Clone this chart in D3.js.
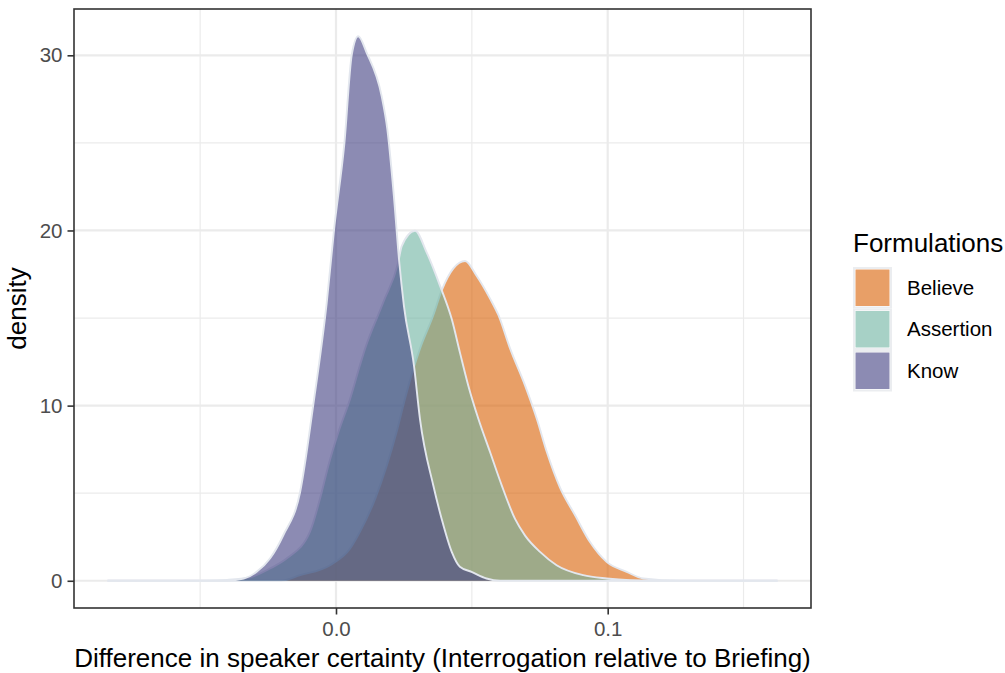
<!DOCTYPE html>
<html>
<head>
<meta charset="utf-8">
<script src="https://cdn.jsdelivr.net/npm/d3@7"></script>
<style>
  body { margin: 0; background: #fff; }
  svg { display: block; font-family: "Liberation Sans", Arial, sans-serif; }
</style>
</head>
<body>
<svg id="chart"></svg>
<script>
//define constants
const svgWidth = 1005;
const svgHeight = 673;
const panel = {left: 74, right: 811, top: 9, bottom: 608};

//define data
const seriesNames = ['Believe', 'Assertion', 'Know'];
const seriesFill = ['#d95f02', '#6cb2a0', '#3f3e80'];

const believeX = [-0.0841, -0.0206, -0.0132, -0.0022, 0.0052, 0.0088, 0.0144, 0.0187, 0.0223, 0.0254, 0.0285, 0.0309, 0.0358, 0.0389, 0.0475, 0.0518, 0.0567, 0.0598, 0.0641, 0.0696, 0.0739, 0.0776, 0.0825, 0.0880, 0.0935, 0.0996, 0.1070, 0.1131, 0.1266, 0.1625];
const believeY = [0, 0, 0.32, 0.89, 1.84, 2.79, 4.68, 6.58, 8.49, 10.39, 12.1, 13.25, 15.16, 16.58, 18.26, 17.4, 16.11, 15.16, 13.25, 11.14, 9.25, 7.35, 5.3, 3.74, 2.21, 1.08, 0.51, 0.13, 0, 0];

const assertionX = [-0.0841, -0.0480, -0.0401, -0.0317, -0.0243, -0.0181, -0.0096, -0.0059, -0.0028, 0.0009, 0.0052, 0.0088, 0.0107, 0.0174, 0.0229, 0.0242, 0.0291, 0.0334, 0.0383, 0.0426, 0.0456, 0.0487, 0.0524, 0.0567, 0.0610, 0.0659, 0.0696, 0.0751, 0.0812, 0.0910, 0.0996, 0.1082, 0.1192, 0.1625];
const assertionY = [0, 0.01, 0.05, 0.2, 0.7, 1.28, 2.79, 4.68, 6.58, 8.49, 10.39, 12.3, 13.25, 15.9, 18.18, 19.11, 19.98, 18.74, 16.84, 14.94, 13.04, 11.14, 9.25, 7.35, 5.45, 3.53, 2.58, 1.65, 0.89, 0.32, 0.13, 0.03, 0, 0];

const knowX = [-0.0841, -0.0400, -0.0340, -0.0292, -0.0243, -0.0194, -0.0132, -0.0084, -0.0034, -0.0007, 0.0031, 0.0058, 0.0082, 0.0113, 0.0168, 0.0189, 0.0213, 0.0233, 0.0250, 0.0287, 0.0309, 0.0358, 0.0389, 0.0426, 0.0456, 0.0499, 0.0554, 0.0604, 0.1625];
const knowY = [0, 0, 0.12, 0.51, 1.27, 2.6, 5.07, 10.0, 15.9, 20.07, 25.0, 30.03, 31.09, 30.14, 27.67, 25.77, 21.97, 18.17, 15.7, 12.28, 9.25, 5.45, 3.53, 1.65, 0.8, 0.51, 0.13, 0, 0];

//tick labels
const xTicks = [0.0, 0.1];
const xMinor = [-0.05, 0.05, 0.15];
const yTicks = [0, 10, 20, 30];
const yMinor = [5, 15, 25];

const xTitle = 'Difference in speaker certainty (Interrogation relative to Briefing)';
const yTitle = 'density';
const legendTitle = 'Formulations';

//build series table
const series = [
	{name: seriesNames[0], fill: seriesFill[0], pts: believeX.map((x, i) => ({x: x, y: believeY[i]}))},
	{name: seriesNames[1], fill: seriesFill[1], pts: assertionX.map((x, i) => ({x: x, y: assertionY[i]}))},
	{name: seriesNames[2], fill: seriesFill[2], pts: knowX.map((x, i) => ({x: x, y: knowY[i]}))}
];

//configure svg window
var svg = d3.select('#chart')
	.attr('width', svgWidth)
	.attr('height', svgHeight);

//define scales (ggplot style 5% expansion)
var xMin = -0.0841, xMax = 0.1625;
var xPad = (xMax - xMin) * 0.05;
var xScale = d3.scaleLinear()
	.domain([xMin - xPad, xMax + xPad])
	.range([panel.left, panel.right]);

var yMax = 31.09;
var yPad = yMax * 0.05;
var yScale = d3.scaleLinear()
	.domain([-yPad, yMax + yPad])
	.range([panel.bottom, panel.top]);

//grid lines
var grid = svg.append('g');
grid.selectAll('.xminor').data(xMinor).enter().append('line')
	.attr('x1', d => xScale(d)).attr('x2', d => xScale(d))
	.attr('y1', panel.top).attr('y2', panel.bottom)
	.attr('stroke', '#ebebeb').attr('stroke-width', 1.2);
grid.selectAll('.yminor').data(yMinor).enter().append('line')
	.attr('y1', d => yScale(d)).attr('y2', d => yScale(d))
	.attr('x1', panel.left).attr('x2', panel.right)
	.attr('stroke', '#ebebeb').attr('stroke-width', 1.2);
grid.selectAll('.xmajor').data(xTicks).enter().append('line')
	.attr('x1', d => xScale(d)).attr('x2', d => xScale(d))
	.attr('y1', panel.top).attr('y2', panel.bottom)
	.attr('stroke', '#ebebeb').attr('stroke-width', 2.2);
grid.selectAll('.ymajor').data(yTicks).enter().append('line')
	.attr('y1', d => yScale(d)).attr('y2', d => yScale(d))
	.attr('x1', panel.left).attr('x2', panel.right)
	.attr('stroke', '#ebebeb').attr('stroke-width', 2.2);

//density areas
var area = d3.area()
	.x(d => xScale(d.x))
	.y0(yScale(0))
	.y1(d => yScale(d.y))
	.curve(d3.curveMonotoneX);
var line = d3.line()
	.x(d => xScale(d.x))
	.y(d => yScale(d.y))
	.curve(d3.curveMonotoneX);

var dens = svg.append('g');
series.forEach(s => {
	dens.append('path')
		.attr('d', area(s.pts))
		.attr('fill', s.fill)
		.attr('fill-opacity', 0.6);
	dens.append('path')
		.attr('d', line(s.pts))
		.attr('fill', 'none')
		.attr('stroke', '#e3e7ee')
		.attr('stroke-width', 1.9)
		.attr('stroke-linejoin', 'round');
});

//panel border
svg.append('rect')
	.attr('x', panel.left).attr('y', panel.top)
	.attr('width', panel.right - panel.left)
	.attr('height', panel.bottom - panel.top)
	.attr('fill', 'none')
	.attr('stroke', '#333333')
	.attr('stroke-width', 1.6);

//axes
var xAxis = d3.axisBottom(xScale)
	.tickValues(xTicks)
	.tickFormat(d3.format('.1f'))
	.tickSize(6.5)
	.tickPadding(7);
var yAxis = d3.axisLeft(yScale)
	.tickValues(yTicks)
	.tickFormat(d3.format('d'))
	.tickSize(6.5)
	.tickPadding(5);

var gx = svg.append('g')
	.attr('transform', `translate(0, ${panel.bottom})`)
	.call(xAxis);
var gy = svg.append('g')
	.attr('transform', `translate(${panel.left}, 0)`)
	.call(yAxis);
[gx, gy].forEach(g => {
	g.select('.domain').remove();
	g.selectAll('.tick line').attr('stroke', '#333333').attr('stroke-width', 1.6);
	g.selectAll('.tick text')
		.attr('fill', '#4d4d4d')
		.style('font-size', '20.5px')
		.style('font-family', '"Liberation Sans", Arial, sans-serif');
});

//axis titles
svg.append('text')
	.text(xTitle)
	.attr('x', (panel.left + panel.right) / 2)
	.attr('y', 667)
	.attr('text-anchor', 'middle')
	.style('font-size', '26px');
svg.append('text')
	.text(yTitle)
	.attr('transform', `translate(${26}, ${(panel.top + panel.bottom) / 2}) rotate(-90)`)
	.attr('text-anchor', 'middle')
	.style('font-size', '26px');

//legend
var legend = svg.append('g')
	.attr('transform', 'translate(853, 0)');
legend.append('text')
	.text(legendTitle)
	.attr('x', 0)
	.attr('y', 252)
	.style('font-size', '26px');
var keys = legend.selectAll('.key')
	.data(series)
	.enter()
	.append('g')
		.classed('key', true)
		.attr('transform', (d, i) => `translate(0, ${267 + i * 41.5})`);
keys.append('rect')
	.attr('x', 1).attr('y', 1)
	.attr('width', 37).attr('height', 39.5)
	.attr('fill', 'none')
	.attr('stroke', '#ebedf0')
	.attr('stroke-width', 2);
keys.append('rect')
	.attr('x', 2.5).attr('y', 2.5)
	.attr('width', 34).attr('height', 36.5)
	.attr('fill', d => d.fill)
	.attr('fill-opacity', 0.6);
keys.append('text')
	.text(d => d.name)
	.attr('x', 54)
	.attr('y', 20.75)
	.attr('dy', '0.35em')
	.style('font-size', '20.5px');
</script>
</body>
</html>
